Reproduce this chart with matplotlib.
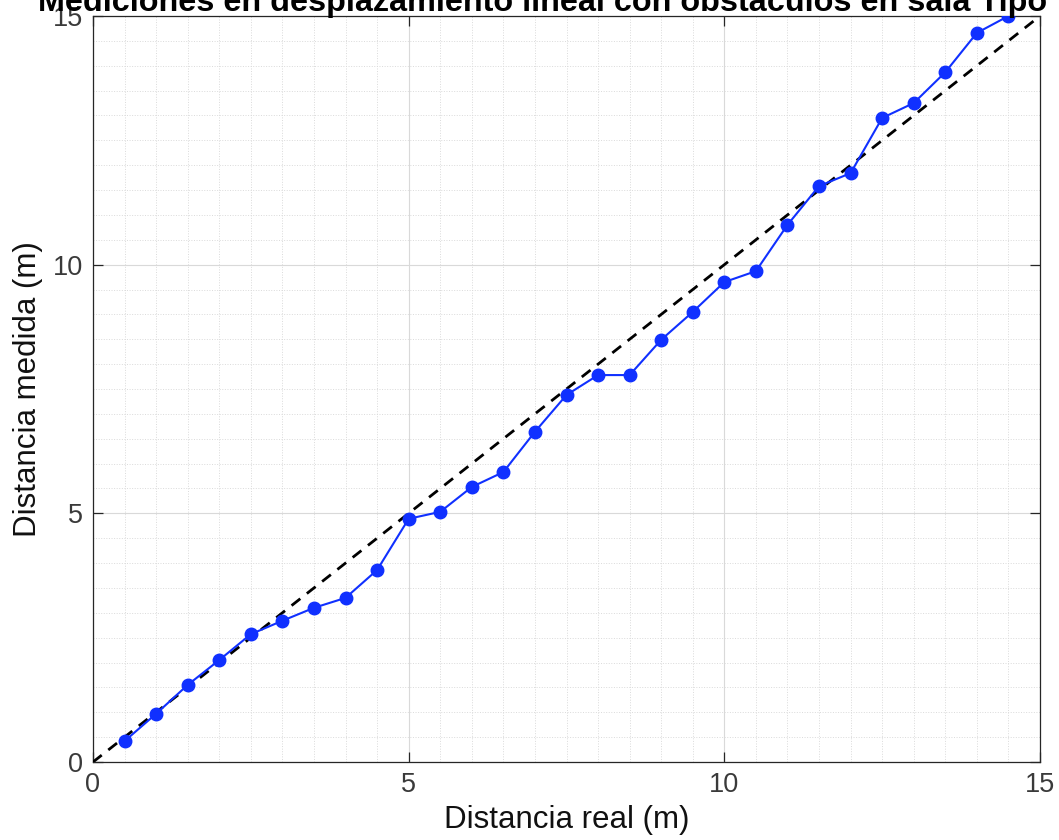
import numpy as np
import matplotlib
matplotlib.use("Agg")
import matplotlib.pyplot as plt
from matplotlib.ticker import MultipleLocator

plt.rcParams['font.family'] = ['Liberation Sans', 'DejaVu Sans']

real_dist = [0.5, 1.0, 1.5, 2.0, 2.5, 3.0, 3.5, 4.0, 4.5, 5.0,
             5.5, 6.0, 6.5, 7.0, 7.5, 8.0, 8.5, 9.0, 9.5, 10.0,
             10.5, 11.0, 11.5, 12.0, 12.5, 13.0, 13.5, 14.0, 14.5]
measured_dist = [0.42, 0.97, 1.55, 2.05, 2.57, 2.84, 3.10, 3.30, 3.86, 4.89,
                 5.03, 5.53, 5.83, 6.64, 7.38, 7.78, 7.78, 8.49, 9.05, 9.65,
                 9.87, 10.80, 11.58, 11.84, 12.95, 13.25, 13.87, 14.66, 15.00]
ideal = [0, 15]
ticks = [0, 5, 10, 15]

title = "Mediciones en desplazamiento lineal con obstáculos en sala Tipo"
dark = '#262626'

fig = plt.figure(figsize=(10.59, 8.4), dpi=100)
ax = fig.add_axes([93 / 1059, 78 / 840, 947 / 1059, 746 / 840])

ax.plot(ideal, ideal, '--', color='black', lw=2.0, dashes=(4, 3), zorder=3)
ax.plot(real_dist, measured_dist, '-o', color='#1030ff', lw=1.5,
        markersize=9, markerfacecolor='#1030ff', markeredgecolor='#1030ff', zorder=4)

ax.set_xlim(0, 15)
ax.set_ylim(0, 15)
ax.set_xticks(ticks)
ax.set_yticks(ticks)
ax.xaxis.set_minor_locator(MultipleLocator(0.5))
ax.yaxis.set_minor_locator(MultipleLocator(0.5))

ax.grid(which='major', color='#d9d9d9', lw=0.8, ls='-')
ax.grid(which='minor', color='#dadada', lw=0.7, ls=':')
ax.set_axisbelow(True)

ax.tick_params(which='major', direction='in', length=7, width=0.9, color=dark,
               top=True, right=True, labelsize=19.5, labelcolor='#3a3a3a', pad=7)
ax.tick_params(which='minor', length=0)
for s in ax.spines.values():
    s.set_color(dark)
    s.set_linewidth(0.9)

ax.set_xlabel("Distancia real (m)", fontsize=22.5, color='#111111', labelpad=5)
ax.set_ylabel("Distancia medida (m)", fontsize=22.5, color='#111111', labelpad=7)

fig.text(38 / 1059, 1 - 11 / 840, title, fontsize=23.3, fontweight='bold',
         ha='left', va='baseline', color='black')

fig.savefig("out.png", dpi=100)
